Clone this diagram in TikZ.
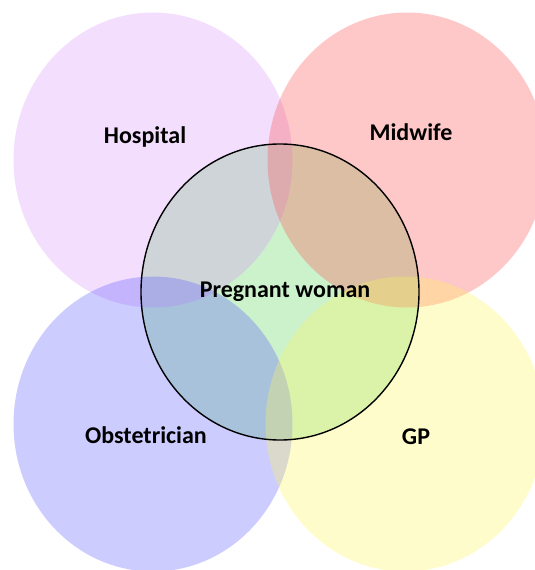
\documentclass[tikz,border=0pt]{standalone}
\usepackage{fontspec}
\setmainfont{Carlito}
\usetikzlibrary{positioning}
\definecolor{hospital}{RGB}{215,145,248}
\definecolor{midwife}{RGB}{255,72,72}
\definecolor{obstet}{RGB}{85,85,255}
\definecolor{gpyellow}{RGB}{255,245,85}
\definecolor{woman}{RGB}{85,212,85}

\begin{document}
\begin{tikzpicture}[x=1pt, y=-1pt,
    venn/.style={fill opacity=0.3},
    lbl/.style={font=\fontsize{24}{28}\selectfont\bfseries, anchor=base, text=black}]
        \useasboundingbox (0,0) rectangle (535,570);
        \clip (0,0) rectangle (535,570);
        % Centre fill (under the others)
        \fill[woman, venn] (280,292) ellipse [x radius=139, y radius=148];
        % Care providers
        \fill[hospital, venn] (153,160) ellipse [x radius=139.5, y radius=147.5];
        \fill[midwife, venn] (407,160) ellipse [x radius=139.5, y radius=147.5];
        \fill[obstet, venn] (153,424) ellipse [x radius=139.5, y radius=147.5];
        \fill[gpyellow, venn] (405,424) ellipse [x radius=139.5, y radius=147.5];
        % Centre outline
        \draw[black, line width=1.4pt] (280,292) ellipse [x radius=139, y radius=148];
        % Labels
        \node[lbl] (hosp) at (145,143) {Hospital};
        \node[lbl] (midw) at (411,140) {Midwife};
        \node[lbl] (preg) at (285,297) {Pregnant woman};
        \node[lbl] (obst) at (146,443) {Obstetrician};
        \node[lbl] (gp) at (416,444) {GP};
      \end{tikzpicture}
\end{document}
